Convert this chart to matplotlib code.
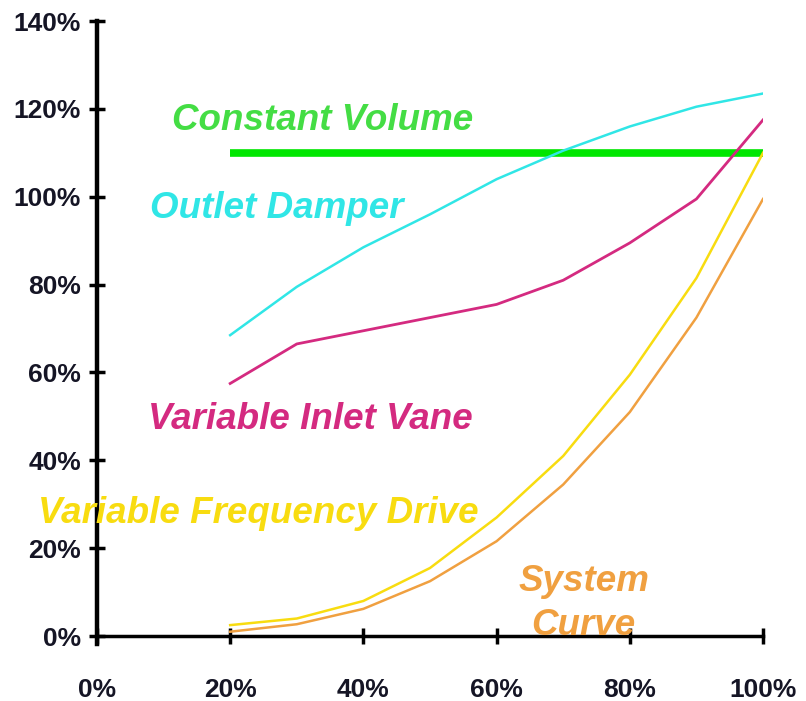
import matplotlib
matplotlib.use("Agg")
import matplotlib.pyplot as plt
import numpy as np

# flow (% of design)
flow = [20, 30, 40, 50, 60, 70, 80, 90, 100]

constant_volume = [110] * len(flow)
outlet_damper = [68.5, 79.5, 88.5, 96, 104, 110.5, 116, 120.5, 123.5]
inlet_vane = [57.5, 66.5, 69.5, 72.5, 75.5, 81, 89.5, 99.5, 117.5]
vfd = [2.5, 4, 8, 15.5, 27, 41, 59.5, 81.5, 110]
system_curve = [1, 2.7, 6.2, 12.5, 21.6, 34.5, 51, 72.5, 99.5]

xticks = [0, 20, 40, 60, 80, 100]
yticks = [0, 20, 40, 60, 80, 100, 120, 140]

c_green = '#00e600'
c_cyan = '#30e6e6'
c_mag = '#d42a80'
c_yel = '#f8dc10'
c_org = '#f0a040'

fig = plt.figure(figsize=(8.06, 7.01), dpi=100)
ax = fig.add_axes([0.1203, 0.0813, 0.8264, 0.8887])

ax.plot(flow, constant_volume, color=c_green, linewidth=5.5, solid_capstyle='butt')
ax.plot(flow, outlet_damper, color=c_cyan, linewidth=1.8)
ax.plot(flow, inlet_vane, color=c_mag, linewidth=2.0)
ax.plot(flow, vfd, color=c_yel, linewidth=1.8)
ax.plot(flow, system_curve, color=c_org, linewidth=1.8)

txt = dict(fontfamily='Liberation Sans', fontstyle='italic', fontweight='bold',
           fontsize=26.5, ha='left', va='center')
ax.text(11.2, 117.4, 'Constant Volume', color='#44dd44', **txt)
ax.text(8.0, 97.3, 'Outlet Damper', color=c_cyan, **txt)
ax.text(7.7, 49.2, 'Variable Inlet Vane', color=c_mag, **txt)
ax.text(-8.9, 27.8, 'Variable Frequency Drive', color=c_yel, **txt)
ax.text(63.3, 12.5, 'System', color=c_org, **txt)
ax.text(65.2, 2.3, 'Curve', color=c_org, **txt)

ax.set_xlim(0, 100)
ax.set_ylim(-1.8, 140)
ax.spines['top'].set_visible(False)
ax.spines['right'].set_visible(False)
ax.spines['left'].set_linewidth(3.2)
ax.spines['bottom'].set_linewidth(2.5)
ax.spines['bottom'].set_position(('data', 0))
ax.spines['left'].set_bounds(-1.8, 140)

ax.set_xticks(xticks)
ax.set_yticks(yticks)
ax.set_xticklabels([f'{t}%' for t in xticks])
ax.set_yticklabels([f'{t}%' for t in yticks])
ax.tick_params(direction='inout', length=11, width=2.5, colors='black')
ax.tick_params(axis='x', pad=25)
ax.tick_params(axis='y', pad=6)
for lab in ax.get_xticklabels() + ax.get_yticklabels():
    lab.set_fontfamily('Liberation Sans')
    lab.set_fontweight('bold')
    lab.set_fontsize(19)
    lab.set_color('#151525')

fig.savefig('out.png', dpi=100)
